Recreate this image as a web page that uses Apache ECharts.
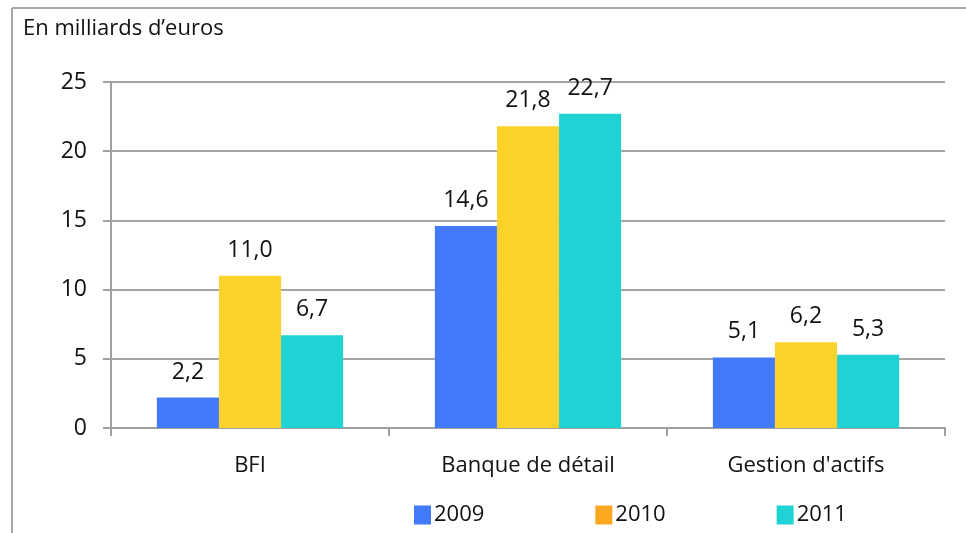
<!DOCTYPE html>
<html>
<head>
<meta charset="utf-8">
<script src="https://cdn.jsdelivr.net/npm/echarts@6/dist/echarts.min.js"></script>
<style>
  html, body { margin: 0; padding: 0; background: #fff; }
  #chart { width: 966px; height: 533px; }
</style>
</head>
<body>
<div id="chart"></div>
<script>
// données
const categories = ['BFI', 'Banque de détail', "Gestion d'actifs"]
const years = ['2009', '2010', '2011']
const values2009 = [2.2, 14.6, 5.1]
const values2010 = [11.0, 21.8, 6.2]
const values2011 = [6.7, 22.7, 5.3]
const yTicks = [0, 5, 10, 15, 20, 25]

const barColors = ['#4379fb', '#fdd22a', '#1fd3d4']
const legendColors = ['#4379fb', '#fba820', '#1fd3d4']

const chart = echarts.init(document.getElementById('chart'))

const fmt = v => v.toFixed(1).replace('.', ',')

const makeSeries = (name, data, i) => ({
  name: name,
  type: 'bar',
  data: data,
  barGap: '0%',
  barCategoryGap: '33%',
  itemStyle: { color: barColors[i] },
  label: {
    show: true,
    position: 'top',
    distance: 14,
    fontFamily: 'Open Sans',
    fontSize: 23,
    color: '#111',
    formatter: p => fmt(p.value)
  }
})

chart.setOption({
  animation: false,
  title: {
    text: "En milliards d’euros",
    left: 18,
    top: 13,
    textStyle: { fontFamily: 'Open Sans', fontSize: 22, fontWeight: 'normal', color: '#111' }
  },
  graphic: [
    { type: 'line', shape: { x1: 12, y1: 8, x2: 966, y2: 8 }, style: { stroke: '#a6a6a6', lineWidth: 2 } },
    { type: 'line', shape: { x1: 12, y1: 8, x2: 12, y2: 533 }, style: { stroke: '#a6a6a6', lineWidth: 2 } }
  ],
  legend: {
    bottom: 2,
    left: 409,
    itemWidth: 17,
    itemHeight: 19,
    itemGap: 111,
    icon: 'rect',
    textStyle: { fontFamily: 'Open Sans', fontSize: 22, color: '#111', padding: [0, 0, 0, -2] },
    data: years.map((y, i) => ({ name: y, itemStyle: { color: legendColors[i] } }))
  },
  grid: { left: 111, right: 21, top: 82, bottom: 105 },
  xAxis: {
    type: 'category',
    data: categories,
    axisLine: { lineStyle: { color: '#a0a0a0', width: 2 } },
    axisTick: { show: true, alignWithLabel: false, length: 8, lineStyle: { color: '#a0a0a0', width: 2 } },
    axisLabel: { fontFamily: 'Open Sans', fontSize: 22, color: '#111', margin: 27 }
  },
  yAxis: {
    type: 'value',
    min: 0,
    max: 25,
    interval: 5,
    axisLine: { show: true, lineStyle: { color: '#a0a0a0', width: 2 } },
    axisTick: { show: true, length: 8, lineStyle: { color: '#a0a0a0', width: 2 } },
    splitLine: { lineStyle: { color: '#a6a6a6', width: 2 } },
    axisLabel: {
      fontFamily: 'Open Sans',
      fontSize: 23,
      color: '#111',
      margin: 24,
      formatter: v => (yTicks.includes(v) ? String(v) : '')
    }
  },
  series: [
    makeSeries(years[0], values2009, 0),
    makeSeries(years[1], values2010, 1),
    makeSeries(years[2], values2011, 2)
  ]
})
</script>
</body>
</html>
